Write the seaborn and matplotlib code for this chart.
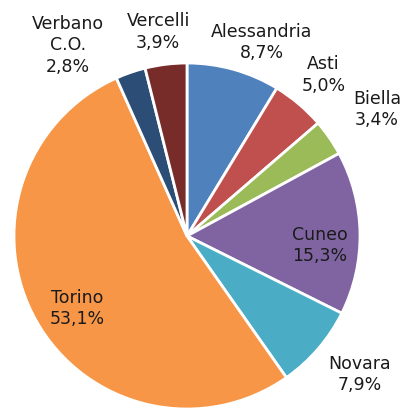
import numpy as np
import seaborn as sns
import matplotlib.pyplot as plt

# Provinces of Piedmont, share in percent
provinces = ['Alessandria', 'Asti', 'Biella', 'Cuneo', 'Novara', 'Torino', 'Verbano\nC.O.', 'Vercelli']
shares = [8.7, 5.0, 3.4, 15.3, 7.9, 53.1, 2.8, 3.9]
colors = ['#4F81BD', '#C0504D', '#9BBB59', '#8064A2', '#4BACC6', '#F79646', '#2C4D75', '#772C2A']

# label placement: radial distance and small angle nudge per slice
label_dist = [1.2, 1.22, 1.32, 0.77, 1.28, 0.76, 1.3, 1.19]
label_nudge = [-5.5, 0, -1, -5, 2, 4, 13, 1]

sns.set_theme(style='white')
plt.rcParams['font.family'] = ['DejaVu Sans']

fig = plt.figure(figsize=(4.04, 4.08), dpi=100)
ax = fig.add_axes([14 / 404, -1 / 408, 346 / 404, 346 / 408])

wedges, _ = ax.pie(shares, colors=colors, startangle=90, counterclock=False,
                   wedgeprops=dict(edgecolor='white', linewidth=2))

for w, name, val, d, nd in zip(wedges, provinces, shares, label_dist, label_nudge):
    mid = np.deg2rad((w.theta1 + w.theta2) / 2 + nd)
    pct = f"{val:.1f}%".replace('.', ',')
    ax.text(d * np.cos(mid), d * np.sin(mid), f"{name}\n{pct}", ha='center', va='center',
            fontsize=12.5, color='#1a1a1a', linespacing=1.25)

ax.set_xlim(-1, 1)
ax.set_ylim(-1, 1)
ax.set_aspect('equal')
ax.axis('off')

fig.savefig('out.png', dpi=100)
